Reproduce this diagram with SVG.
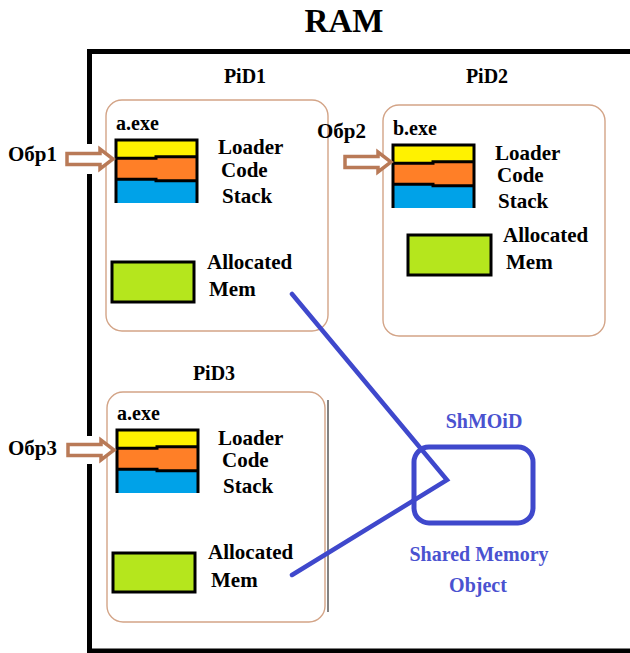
<svg xmlns="http://www.w3.org/2000/svg" xmlns:xlink="http://www.w3.org/1999/xlink" width="630" height="653" viewBox="0 0 630 653" font-family="'Liberation Serif', 'DejaVu Serif', serif" font-weight="bold">
  <style>
    text { fill: #000; }
    .title { font-size: 33px; }
    .pid { font-size: 20px; }
    .exe { font-size: 20px; }
    .seg { font-size: 21px; }
    .hdl { font-size: 21px; }
    .shm { font-size: 20px; fill: #4a52d0; }
    .proc { fill: #fff; stroke: #d3a487; stroke-width: 1.4; }
    .frame { stroke: #000; stroke-width: 5; fill: none; }
    .mem { fill: #b5e61d; stroke: #000; stroke-width: 3; }
    .ptr { fill: #fff; stroke: #b97a57; stroke-width: 3.5; stroke-linejoin: miter; }
    .link { fill: none; stroke: #3f48cc; stroke-width: 4.5; stroke-linecap: round; stroke-linejoin: miter; }
  </style>
  <defs>
    <!-- executable image: Loader / Code / Stack segments -->
    <g id="image">
      <rect x="0" y="0" width="81" height="18" fill="#fff200"/>
      <rect x="0" y="18" width="81" height="22" fill="#ff7f27"/>
      <rect x="0" y="40" width="81" height="23" fill="#00a2e8"/>
      <path d="M0,63 V0 H81 V63" fill="none" stroke="#000" stroke-width="3"/>
      <path d="M0,18.3 H40 V16.8 H81" fill="none" stroke="#000" stroke-width="3"/>
      <path d="M0,39.3 H40 V40.8 H81" fill="none" stroke="#000" stroke-width="3"/>
    </g>
    <!-- hollow handle arrow -->
    <polygon id="handle" points="0,-5.5 33,-5.5 33,-10 46,0 33,10 33,5.5 0,5.5"/>
  </defs>

  <text class="title" x="344" y="32" text-anchor="middle">RAM</text>

  <!-- RAM frame, broken where the handle arrows pass -->
  <g id="ram">
    <path class="frame" d="M89.5,51.5 H630 M89.5,49 V144 M89.5,174 V436 M89.5,464 V653 M87,651 H630"/>
  </g>

  <g id="pid1">
    <text class="pid" x="245" y="83" text-anchor="middle">PiD1</text>
    <rect class="proc" x="106" y="100" width="222" height="231" rx="16"/>
    <text class="exe" x="116" y="130">a.exe</text>
    <use xlink:href="#image" x="116" y="140"/>
    <text class="seg" x="218" y="154">Loader</text>
    <text class="seg" x="221" y="177">Code</text>
    <text class="seg" x="222" y="203">Stack</text>
    <rect class="mem" x="112" y="262" width="82" height="40"/>
    <text class="seg" x="207" y="269">Allocated</text>
    <text class="seg" x="209" y="296">Mem</text>
  </g>

  <g id="pid2">
    <text class="pid" x="487" y="83" text-anchor="middle">PiD2</text>
    <rect class="proc" x="383" y="105" width="222" height="231" rx="16"/>
    <text class="exe" x="393" y="135">b.exe</text>
    <use xlink:href="#image" x="393" y="145"/>
    <text class="seg" x="495" y="160">Loader</text>
    <text class="seg" x="497" y="182">Code</text>
    <text class="seg" x="498" y="208">Stack</text>
    <rect class="mem" x="408" y="235" width="83" height="40"/>
    <text class="seg" x="503" y="242">Allocated</text>
    <text class="seg" x="506" y="269">Mem</text>
  </g>

  <g id="pid3">
    <text class="pid" x="214" y="380" text-anchor="middle">PiD3</text>
    <rect class="proc" x="107" y="392" width="218" height="230" rx="16"/>
    <line x1="328" y1="400" x2="328" y2="612" stroke="#5a5a5a" stroke-width="1.5"/>
    <text class="exe" x="117" y="420">a.exe</text>
    <use xlink:href="#image" x="117" y="430"/>
    <text class="seg" x="218" y="445">Loader</text>
    <text class="seg" x="222" y="467">Code</text>
    <text class="seg" x="223" y="493">Stack</text>
    <rect class="mem" x="113" y="553" width="82" height="39"/>
    <text class="seg" x="208" y="559">Allocated</text>
    <text class="seg" x="211" y="587">Mem</text>
  </g>

  <g id="handle1">
    <text class="hdl" x="8" y="161">Обр1</text>
    <use xlink:href="#handle" class="ptr" x="67" y="159"/>
  </g>
  <g id="handle2">
    <text class="hdl" x="317" y="138">Обр2</text>
    <use xlink:href="#handle" class="ptr" x="345" y="162"/>
  </g>
  <g id="handle3">
    <text class="hdl" x="8" y="455">Обр3</text>
    <use xlink:href="#handle" class="ptr" x="68" y="450"/>
  </g>

  <g id="shmem">
    <text class="shm" x="484" y="428" text-anchor="middle">ShMOiD</text>
    <rect x="414" y="447" width="119" height="76" rx="15" fill="none" stroke="#3f48cc" stroke-width="5"/>
    <text class="shm" x="479" y="561" text-anchor="middle">Shared Memory</text>
    <text class="shm" x="478" y="592" text-anchor="middle">Object</text>
  </g>

  <g id="connectors">
    <polyline class="link" points="292,294 447,480 292,575"/>
  </g>
</svg>
